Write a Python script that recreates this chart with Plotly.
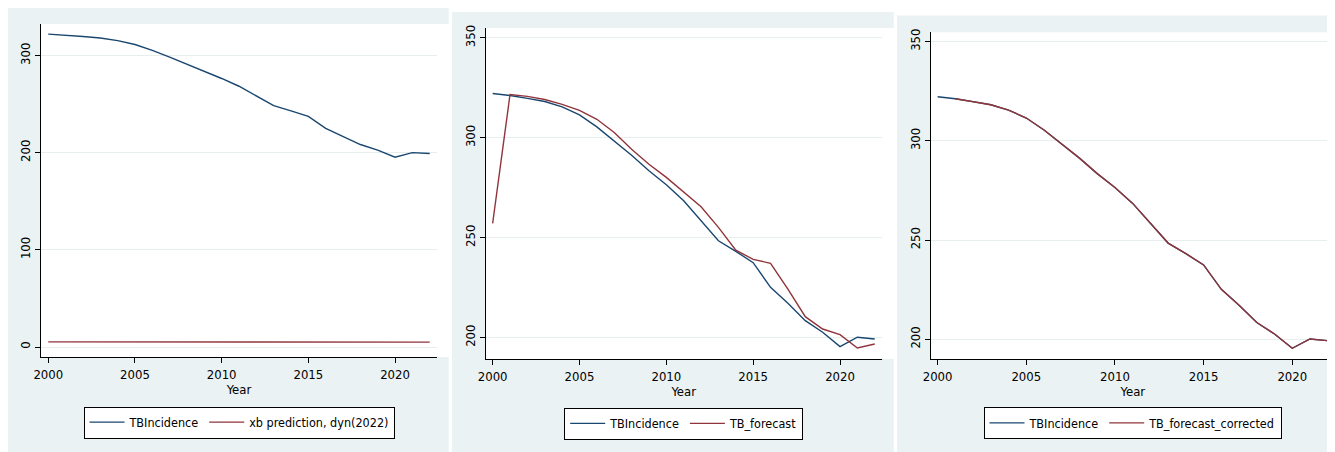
import plotly.graph_objects as go

years = list(range(2000, 2023))
tb_incidence = [322.2, 321.2, 319.8, 318.2, 315.5, 311.5, 305.5, 298.5, 291.3, 283.5, 276.5,
                268.5, 258.5, 248.5, 243.2, 237.5, 225.2, 217.2, 208.5, 202.7, 195.5, 200.2, 199.3]
xb_prediction = [5.3, 5.3, 5.3, 5.3, 5.3, 5.3, 5.3, 5.3, 5.3, 5.3, 5.2, 5.2,
                 5.2, 5.1, 5.1, 5.1, 5.1, 5.1, 5.0, 5.0, 5.0, 5.0, 5.0]
tb_forecast = [257.2, 321.7, 320.8, 319.2, 316.8, 313.8, 309.3, 302.7, 294.3, 286.8, 280.2,
               272.7, 265.5, 255.2, 243.8, 239.2, 237.2, 224.3, 210.5, 204.3, 201.5, 194.8, 196.8]
tb_forecast_corrected = [None, 321.2, 319.8, 318.2, 315.5, 311.5, 305.5, 298.5, 291.3, 283.5, 276.5,
                         268.5, 258.5, 248.5, 243.2, 237.5, 225.2, 217.2, 208.5, 202.7, 195.5, 200.2, 199.3]
x_ticks = [2000, 2005, 2010, 2015, 2020]
y_ticks_1 = [0, 100, 200, 300]
y_ticks_23 = [200, 250, 300, 350]

BLUE = "#1a476f"
RED = "#90353b"
BG = "#eaf2f3"
GRID = "#e6eeee"
FONT = "Liberation Sans Narrow, Arial Narrow, DejaVu Sans Condensed, Liberation Sans, Arial, sans-serif"


def fnt(size=13):
    return dict(family=FONT, size=size, color="#000")


# the page body has an 8px margin; figure is sized to fill the rest of the window
OFF = 8
W, H = 1327, 444


def px(x):
    return (x - OFF) / W


def py(y):
    return 1 - (y - OFF) / H


fig = go.Figure()

# panel 1
fig.add_trace(go.Scatter(x=years, y=tb_incidence, mode="lines", name="TBIncidence",
                         line=dict(color=BLUE, width=1.4), xaxis="x", yaxis="y", legend="legend"))
fig.add_trace(go.Scatter(x=years, y=xb_prediction, mode="lines", name="xb prediction, dyn(2022)",
                         line=dict(color=RED, width=1.4), xaxis="x", yaxis="y", legend="legend"))
# panel 2
fig.add_trace(go.Scatter(x=years, y=tb_incidence, mode="lines", name="TBIncidence",
                         line=dict(color=BLUE, width=1.4), xaxis="x2", yaxis="y2", legend="legend2"))
fig.add_trace(go.Scatter(x=years, y=tb_forecast, mode="lines", name="TB_forecast",
                         line=dict(color=RED, width=1.4), xaxis="x2", yaxis="y2", legend="legend2"))
# panel 3
fig.add_trace(go.Scatter(x=years, y=tb_incidence, mode="lines", name="TBIncidence",
                         line=dict(color=BLUE, width=1.4), xaxis="x3", yaxis="y3", legend="legend3"))
fig.add_trace(go.Scatter(x=years, y=tb_forecast_corrected, mode="lines", name="TB_forecast_corrected",
                         line=dict(color=RED, width=1.4), xaxis="x3", yaxis="y3", legend="legend3"))

panels = [
    dict(x0=41, x1=437, yt=24, yb=357, xr=[1999.58, 2022.42], yr=[-10.3, 332.6], yt_vals=y_ticks_1,
         bg=(8, 448.7, 8, 452)),
    dict(x0=485.7, x1=881.7, yt=28, yb=359, xr=[1999.6, 2022.4], yr=[189.3, 355.0], yt_vals=y_ticks_23,
         bg=(452, 893.7, 12, 452)),
    dict(x0=930.7, x1=1335, yt=32.3, yb=359, xr=[1999.61, 2022.41], yr=[190.1, 354.7], yt_vals=y_ticks_23,
         bg=(897, 1345, 15.5, 452)),
]

shapes = []
layout_axes = {}
for i, p in enumerate(panels):
    sfx = "" if i == 0 else str(i + 1)
    bx0, bx1, by0, by1 = p["bg"]
    shapes.append(dict(type="rect", xref="paper", yref="paper", x0=px(bx0), x1=px(bx1),
                       y0=py(by1), y1=py(by0), fillcolor=BG, line=dict(width=0), layer="below"))
    shapes.append(dict(type="rect", xref="paper", yref="paper", x0=px(p["x0"]), x1=px(p["x1"]) + 0.01,
                       y0=py(p["yb"]), y1=py(p["yt"]), fillcolor="white", line=dict(width=0),
                       layer="below"))
    layout_axes["xaxis" + sfx] = dict(
        domain=[px(p["x0"]), min(1, px(p["x1"]))], range=p["xr"], anchor="y" + sfx,
        tickvals=x_ticks, ticks="outside", ticklen=5, tickcolor="#000", tickwidth=1,
        showline=True, linecolor="#000", linewidth=1, showgrid=False, zeroline=False,
        automargin=False, tickfont=fnt(13),
        title=dict(text="Year", font=fnt(13), standoff=1),
    )
    layout_axes["yaxis" + sfx] = dict(
        domain=[py(p["yb"]), py(p["yt"])], range=p["yr"], anchor="x" + sfx,
        tickvals=p["yt_vals"], ticks="outside", ticklen=5, tickcolor="#000", tickwidth=1,
        showline=True, linecolor="#000", linewidth=1, showgrid=True, gridcolor=GRID, gridwidth=1,
        zeroline=False, tickangle=-90, automargin=False, tickfont=fnt(13),
    )

legend_common = dict(orientation="h", xanchor="center", yanchor="middle", bgcolor="white",
                     bordercolor="#000", borderwidth=1, font=fnt(12.5),
                     itemwidth=35, itemclick=False)
fig.update_layout(
    width=W, height=H, margin=dict(l=0, r=0, t=0, b=0, autoexpand=False),
    paper_bgcolor="white", plot_bgcolor="white",
    shapes=shapes,
    legend=dict(legend_common, x=px(239), y=py(422.5)),
    legend2=dict(legend_common, x=px(683.7), y=py(423.8)),
    legend3=dict(legend_common, x=px(1132.5), y=py(423.3)),
    **layout_axes,
)

fig.write_html("out.html")
